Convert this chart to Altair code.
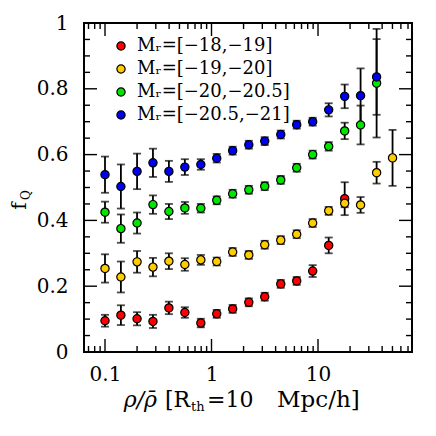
import altair as alt
import pandas as pd

# ---------------- data ----------------
x_vals = [0.1, 0.141, 0.2, 0.282, 0.398, 0.562, 0.794, 1.12, 1.58, 2.24,
          3.16, 4.47, 6.31, 8.91, 12.6, 17.8, 25.1, 35.5, 50.1]

series_names = ["Mᵣ=[−18,−19]", "Mᵣ=[−19,−20]", "Mᵣ=[−20,−20.5]", "Mᵣ=[−20.5,−21]"]
series_colors = ["#ff0000", "#ffcc00", "#00e600", "#0000f0"]

red_f = [0.095, 0.112, 0.101, 0.093, 0.134, 0.120, 0.088, 0.116, 0.131, 0.151,
         0.168, 0.207, 0.216, 0.246, 0.324, 0.466]
red_err = [0.018, 0.030, 0.020, 0.020, 0.019, 0.016, 0.013, 0.012, 0.012, 0.012,
           0.012, 0.012, 0.012, 0.018, 0.024, 0.050]

yellow_f = [0.254, 0.228, 0.274, 0.258, 0.276, 0.266, 0.280, 0.275, 0.304, 0.295,
            0.326, 0.340, 0.358, 0.392, 0.429, 0.452, 0.447, 0.545, 0.590]
yellow_err = [0.043, 0.047, 0.033, 0.028, 0.024, 0.019, 0.015, 0.012, 0.012, 0.012,
              0.012, 0.012, 0.012, 0.012, 0.012, 0.012, 0.024, 0.033, 0.085]

green_f = [0.425, 0.375, 0.392, 0.448, 0.427, 0.438, 0.437, 0.461, 0.481, 0.493,
           0.504, 0.523, 0.560, 0.600, 0.625, 0.672, 0.690, 0.817]
green_err = [0.032, 0.043, 0.032, 0.028, 0.023, 0.018, 0.013, 0.012, 0.012, 0.012,
             0.012, 0.012, 0.012, 0.012, 0.013, 0.025, 0.059, 0.165]

blue_f = [0.539, 0.503, 0.549, 0.575, 0.549, 0.562, 0.570, 0.589, 0.612, 0.630,
          0.641, 0.661, 0.691, 0.700, 0.736, 0.777, 0.779, 0.836]
blue_err = [0.055, 0.067, 0.054, 0.043, 0.032, 0.024, 0.016, 0.013, 0.012, 0.012,
            0.012, 0.012, 0.012, 0.012, 0.020, 0.036, 0.083, 0.115]

x_major = [0.1, 1, 10]
x_minor = [0.07, 0.08, 0.09, 0.2, 0.3, 0.4, 0.5, 0.6, 0.7, 0.8, 0.9,
           2, 3, 4, 5, 6, 7, 8, 9, 20, 30, 40, 50, 60, 70]
y_major = [0, 0.2, 0.4, 0.6, 0.8, 1.0]
y_minor = [0.05, 0.1, 0.15, 0.25, 0.3, 0.35, 0.45, 0.5, 0.55, 0.65, 0.7, 0.75,
           0.85, 0.9, 0.95]

x_domain = [0.0635, 76.3]
y_domain = [0, 1]

# ---------------- build table ----------------
rows = []
for i, (name, vals, errs) in enumerate(zip(series_names,
                                           [red_f, yellow_f, green_f, blue_f],
                                           [red_err, yellow_err, green_err, blue_err])):
    for xv, v, e in zip(x_vals, vals, errs):
        rows.append({"series": name, "series_idx": i, "x": xv, "f": v,
                     "lo": v - e, "hi": v + e})
df = pd.DataFrame(rows)

W, H = 328, 329
FONT = "DejaVu Serif"

xs = alt.Scale(type="log", domain=x_domain, nice=False)
ys = alt.Scale(domain=y_domain, nice=False, zero=False)

X = alt.X("x:Q", scale=xs,
          axis=alt.Axis(values=x_major, format="~g", ticks=False, domain=False,
                        grid=False, title=None, labelFlush=False,
                        labelPadding=12, labelFontSize=20, labelFont=FONT))
Y = alt.Y("f:Q", scale=ys,
          axis=alt.Axis(values=y_major, format="~g", ticks=False, domain=False,
                        grid=False, title=None, labelFlush=False,
                        labelPadding=16, labelFontSize=20, labelFont=FONT))

base = alt.Chart(df)

err_rule = base.mark_rule(color="black", strokeWidth=1.8).encode(
    x=alt.X("x:Q", scale=xs), y=alt.Y("lo:Q", scale=ys), y2="hi:Q")
cap_lo = base.mark_tick(orient="horizontal", size=8, thickness=1.8, color="black").encode(
    x=alt.X("x:Q", scale=xs), y=alt.Y("lo:Q", scale=ys))
cap_hi = base.mark_tick(orient="horizontal", size=8, thickness=1.8, color="black").encode(
    x=alt.X("x:Q", scale=xs), y=alt.Y("hi:Q", scale=ys))

points = base.mark_circle(size=68, stroke="black", strokeWidth=1.2, opacity=1).encode(
    x=X, y=Y,
    fill=alt.Fill("series:N",
                  scale=alt.Scale(domain=series_names, range=series_colors),
                  sort=series_names,
                  legend=alt.Legend(title=None, orient="none", legendX=28, legendY=14,
                                    symbolType="circle", symbolSize=68,
                                    symbolStrokeColor="black", symbolStrokeWidth=1.2,
                                    labelFont=FONT, labelFontSize=18, labelColor="black",
                                    labelOffset=7, rowPadding=5, padding=0)),
    order=alt.Order("series_idx:Q"))

# tick marks (inside, all four sides)
def xticks(vals, length):
    d = pd.DataFrame({"x": vals})
    bot = alt.Chart(d).mark_rule(color="black", strokeWidth=1.4).encode(
        x=alt.X("x:Q", scale=xs), y=alt.value(H), y2=alt.value(H - length))
    top = alt.Chart(d).mark_rule(color="black", strokeWidth=1.4).encode(
        x=alt.X("x:Q", scale=xs), y=alt.value(0), y2=alt.value(length))
    return [bot, top]

def yticks(vals, length):
    d = pd.DataFrame({"f": vals})
    left = alt.Chart(d).mark_rule(color="black", strokeWidth=1.4).encode(
        y=alt.Y("f:Q", scale=ys), x=alt.value(0), x2=alt.value(length))
    right = alt.Chart(d).mark_rule(color="black", strokeWidth=1.4).encode(
        y=alt.Y("f:Q", scale=ys), x=alt.value(W), x2=alt.value(W - length))
    return [left, right]

tick_layers = xticks(x_major, 13) + xticks(x_minor, 6) + yticks(y_major, 13) + yticks(y_minor, 6)

one = pd.DataFrame({"k": [0]})

def label(text, x, y, size=21, style="normal", align="left"):
    return alt.Chart(one).mark_text(text=text, font=FONT, fontSize=size, fontStyle=style,
                                    align=align, baseline="middle").encode(
        x=alt.value(x), y=alt.value(y))

ytitle_f = alt.Chart(one).mark_text(text="f", font=FONT, fontSize=20, angle=270,
                                    align="center", baseline="middle").encode(
    x=alt.value(-64), y=alt.value(183))
ytitle_q = alt.Chart(one).mark_text(text="Q", font=FONT, fontSize=12, angle=270,
                                    align="center", baseline="middle").encode(
    x=alt.value(-58), y=alt.value(172))

xt1 = label("ρ/ρ̄", 73, 377, size=22, style="italic", align="right")
xt2 = label("[R", 81, 377, size=22)
xt3 = label("th", 107, 384, size=13)
xt4 = label("=10", 123, 377, size=22)
xt5 = label("Mpc/h]", 193, 377, size=23)

chart = alt.layer(
    err_rule, cap_lo, cap_hi, *tick_layers, points,
    ytitle_f, ytitle_q, xt1, xt2, xt3, xt4, xt5
).properties(
    width=W, height=H,
    autosize=alt.AutoSizeParams(type="none"),
    padding={"left": 76, "top": 15, "right": 16, "bottom": 76},
).configure_view(
    stroke="black", strokeWidth=2
).configure_axis(
    labelColor="black"
)

chart.save("out.html", embed_options={"renderer": "svg", "actions": False})
